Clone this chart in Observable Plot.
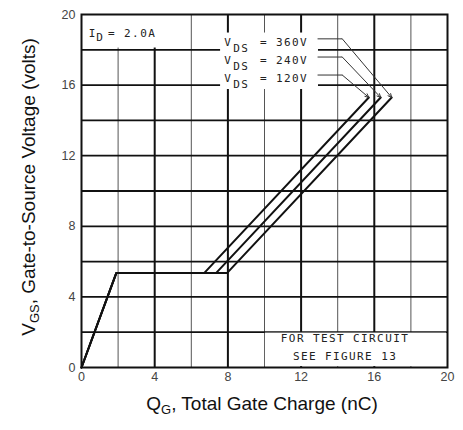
<!DOCTYPE html>
<html>
<head>
<meta charset="utf-8">
<script src="https://cdn.jsdelivr.net/npm/d3@7"></script>
<script src="https://cdn.jsdelivr.net/npm/@observablehq/plot@0.6"></script>
<style>
  body { margin: 0; background: #fff; }
</style>
</head>
<body>
<div id="chart"></div>
<script>
// curvas de carga de puerta, una por cada tension VDS
const vdsSeries = ["120V", "240V", "360V"];
const qgRiseEnd = [1.9, 1.9, 1.9];
const vgsPlateau = [5.35, 5.35, 5.35];
const qgPlateauEnd = [6.7, 7.35, 7.95];
const qgEnd = [15.7, 16.35, 16.95];
const vgsEnd = [15.3, 15.3, 15.3];

// ejes y grilla
const xTicks = [0, 4, 8, 12, 16, 20];
const yTicks = [0, 4, 8, 12, 16, 20];
const xMinor = [2, 6, 10, 14, 18];
const xMajor = [4, 8, 12, 16];
const yGrid = [2, 4, 6, 8, 10, 12, 14, 16, 18];

// altura de cada renglon de la leyenda (misma orden que vdsSeries)
const legendY = [16.35, 17.37, 18.4];

// armamos los puntos de cada curva
let curves = [];
vdsSeries.forEach((s, i) => {
  curves.push({vds: s, qg: 0, vgs: 0});
  curves.push({vds: s, qg: qgRiseEnd[i], vgs: vgsPlateau[i]});
  curves.push({vds: s, qg: qgPlateauEnd[i], vgs: vgsPlateau[i]});
  curves.push({vds: s, qg: qgEnd[i], vgs: vgsEnd[i]});
});

let legend = vdsSeries.map((s, i) => ({
  vds: s, y: legendY[i], leadY: legendY[i] + 0.22, endX: qgEnd[i], endY: vgsEnd[i]
}));

// zonas donde la grilla queda tapada por los textos
let masks = [
  {x1: 0, x2: 4.4, y1: 18.1, y2: 20},
  {x1: 7.6, x2: 12.95, y1: 15.75, y2: 18.95},
  {x1: 10.05, x2: 19.95, y1: 0.05, y2: 1.95}
];

const mono = "'DejaVu Sans Mono', monospace";

let chart = Plot.plot({
  width: 463,
  height: 430,
  marginLeft: 81,
  marginRight: 16,
  marginTop: 14,
  marginBottom: 63,
  style: {fontFamily: "'Liberation Sans', Arial, sans-serif", fontSize: "12.5px", color: "#444", background: "#fff"},
  x: {domain: [0, 20], ticks: xTicks, label: null, tickSize: 0, tickPadding: 5},
  y: {domain: [0, 20], ticks: yTicks, label: null, tickSize: 0, tickPadding: 6},
  marks: [
    Plot.ruleX(xMinor, {stroke: "#555", strokeWidth: 1}),
    Plot.ruleX(xMajor, {stroke: "#111", strokeWidth: 2}),
    Plot.ruleY(yGrid, {stroke: "#111", strokeWidth: 1.8}),
    Plot.rect(masks, {x1: "x1", x2: "x2", y1: "y1", y2: "y2", fill: "white"}),
    Plot.frame({stroke: "#111", strokeWidth: 2}),
    Plot.line(curves, {x: "qg", y: "vgs", z: "vds", stroke: "#111", strokeWidth: 2}),
    // lineas guia de la leyenda
    Plot.link(legend, {x1: 12.9, x2: 14.25, y1: "leadY", y2: "leadY", stroke: "#333", strokeWidth: 1}),
    Plot.arrow(legend, {x1: 14.25, y1: "leadY", x2: "endX", y2: "endY", stroke: "#333", strokeWidth: 1, headLength: 6, headAngle: 50}),
    Plot.text(legend, {x: 7.8, y: "y", text: d => "V", textAnchor: "start", fontFamily: mono, fontSize: 11, fill: "#222", className: "anno"}),
    Plot.text(legend, {x: 7.8, y: "y", text: d => "DS", dx: 9, dy: 6, textAnchor: "start", fontFamily: mono, fontSize: 11, fill: "#222", className: "anno"}),
    Plot.text(legend, {x: 9.75, y: "y", text: d => "= " + d.vds, textAnchor: "start", fontFamily: mono, fontSize: 11, fill: "#222", className: "anno"}),
    Plot.text(["I"], {x: 0.4, y: 18.95, textAnchor: "start", fontFamily: mono, fontSize: 11, fill: "#222", className: "anno"}),
    Plot.text(["D"], {x: 0.4, y: 18.95, dx: 7.5, dy: 4, textAnchor: "start", fontFamily: mono, fontSize: 11, fill: "#222", className: "anno"}),
    Plot.text(["= 2.0A"], {x: 1.45, y: 18.95, textAnchor: "start", fontFamily: mono, fontSize: 11, fill: "#222", className: "anno"}),
    Plot.text(["FOR TEST CIRCUIT", "SEE FIGURE 13"], {x: 14.4, y: [1.63, 0.6], fontFamily: mono, fontSize: 11, fill: "#222", className: "anno"})
  ]
});

const svg = d3.select(chart);
svg.selectAll(".anno text").attr("letter-spacing", "1.4px");

// titulos de los ejes con subindices
const axisFont = "'Liberation Sans', Arial, sans-serif";
svg.append("text")
  .attr("transform", "translate(35,187) rotate(-90)")
  .attr("text-anchor", "middle")
  .attr("font-family", axisFont)
  .attr("font-size", 19)
  .attr("fill", "#111")
  .call(t => {
    t.append("tspan").text("V");
    t.append("tspan").attr("font-size", 13).attr("dy", 4).text("GS");
    t.append("tspan").attr("dy", -4).text(", Gate-to-Source Voltage (volts)");
  });

svg.append("text")
  .attr("x", 262)
  .attr("y", 410)
  .attr("text-anchor", "middle")
  .attr("font-family", axisFont)
  .attr("font-size", 19)
  .attr("fill", "#111")
  .call(t => {
    t.append("tspan").text("Q");
    t.append("tspan").attr("font-size", 13).attr("dy", 4).text("G");
    t.append("tspan").attr("dy", -4).text(", Total Gate Charge (nC)");
  });

d3.select('#chart').append(() => chart);
</script>
</body>
</html>
